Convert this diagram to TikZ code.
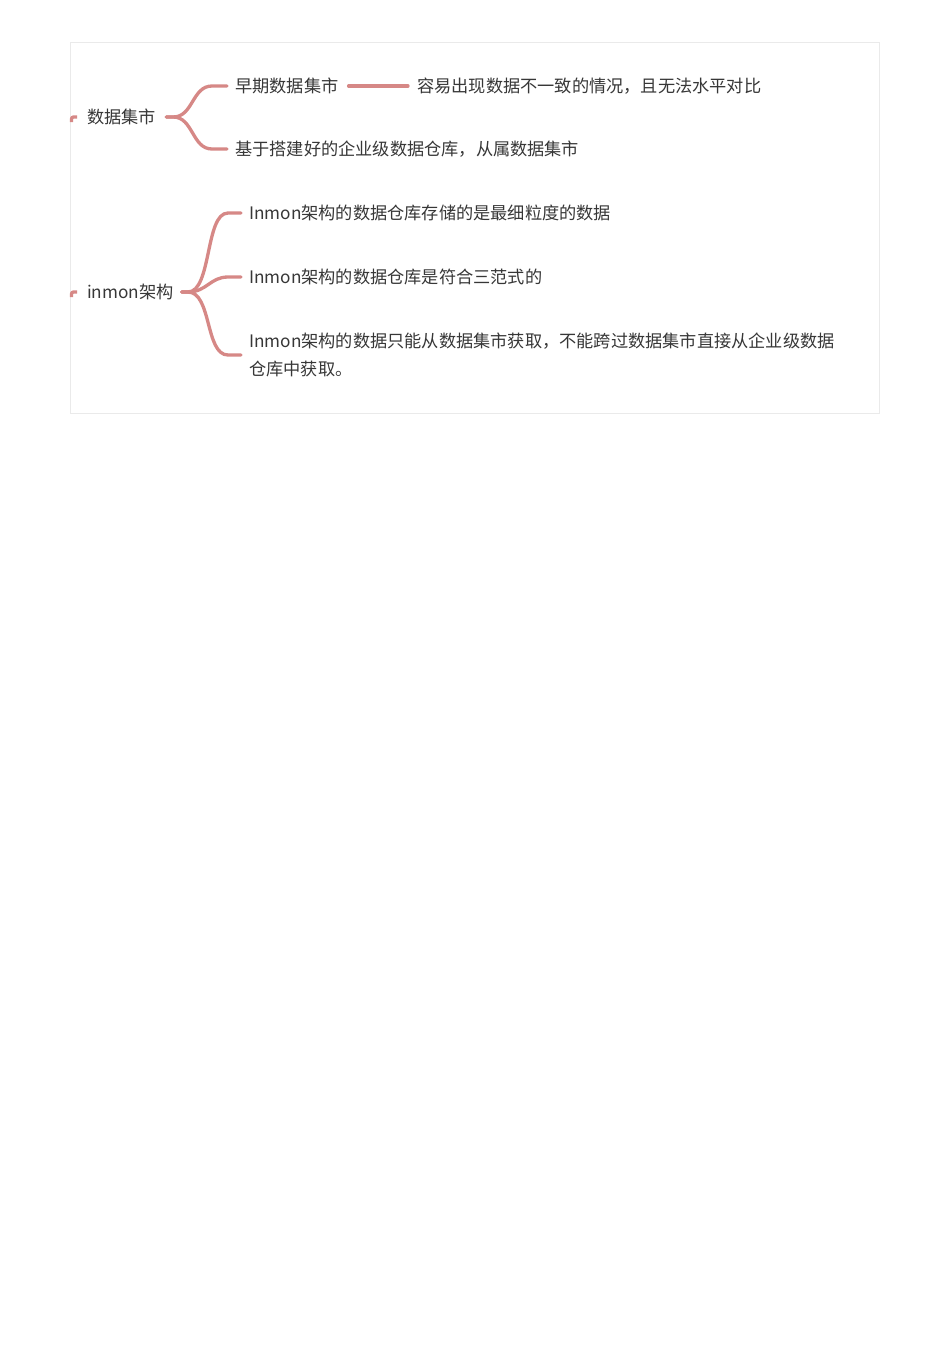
\documentclass[tikz,border=0pt]{standalone}
\usepackage{fontspec}
\setmainfont{Noto Sans CJK SC}
\definecolor{brc}{RGB}{214,136,134}
\definecolor{txtc}{RGB}{55,55,55}
\definecolor{framec}{RGB}{234,234,234}
\begin{document}
\begin{tikzpicture}[x=1pt,y=-1pt,
  txtn/.style={anchor=west,inner sep=0pt,text=txtc,font=\fontsize{17.2}{28.5}\selectfont,align=left},
  brl/.style={draw=brc,line width=3.3pt,line cap=round}]
\useasboundingbox[fill=white] (0,0) rectangle (950,1345);
\draw[draw=framec,line width=1pt] (70.5,42.5) rectangle (879.5,413.5);

% nodes
\node[txtn] (ds) at (87,117) {数据集市};
\node[txtn] (a1) at (235,86) {早期数据集市};
\node[txtn] (a1b) at (417,86) {容易出现数据不一致的情况，且无法水平对比};
\node[txtn] (a2) at (235,149) {基于搭建好的企业级数据仓库，从属数据集市};

\node[txtn] (im) at (87,292) {inmon架构};
\node[txtn] (b1) at (249,213) {Inmon架构的数据仓库存储的是最细粒度的数据};
\node[txtn] (b2) at (249,277) {Inmon架构的数据仓库是符合三范式的};
\node[txtn] (b3) at (249,355) {Inmon架构的数据只能从数据集市获取，不能跨过数据集市直接从企业级数据\\仓库中获取。};

% root coordinates
\coordinate (r1) at ([xshift=10pt]ds.east);
\coordinate (r2) at ([xshift=8pt]im.east);

% stubs from off-frame parent
\coordinate (s1) at (71.5,122);
\coordinate (s2) at (71.5,297);
\draw[brl,line cap=butt,rounded corners=2pt] (s1) |- ([xshift=-10pt]ds.west);
\draw[brl,line cap=butt,rounded corners=2pt] (s2) |- ([xshift=-10pt]im.west);

% brace 1
\draw[brl] (r1) -- ++(7,0) .. controls +(20,0) and +(-20,0) .. ([xshift=-23pt]a1.west) -- ([xshift=-8pt]a1.west);
\draw[brl] (r1) -- ++(7,0) .. controls +(20,0) and +(-20,0) .. ([xshift=-23pt]a2.west) -- ([xshift=-8pt]a2.west);
\draw[brl] ([xshift=10pt]a1.east) -- ([xshift=-9pt]a1b.west);

% brace 2
\draw[brl] (r2) -- ++(6,0) .. controls +(24,0) and +(-23,0) .. ([xshift=-21pt]b1.west) -- ([xshift=-8pt]b1.west);
\draw[brl] (r2) -- ++(6,0) .. controls +(19,0) and +(-18,0) .. ([xshift=-21pt]b2.west) -- ([xshift=-8pt]b2.west);
\draw[brl] (r2) -- ++(6,0) .. controls +(24,0) and +(-23,0) .. ([xshift=-21pt]b3.west) -- ([xshift=-8pt]b3.west);
\end{tikzpicture}
\end{document}
